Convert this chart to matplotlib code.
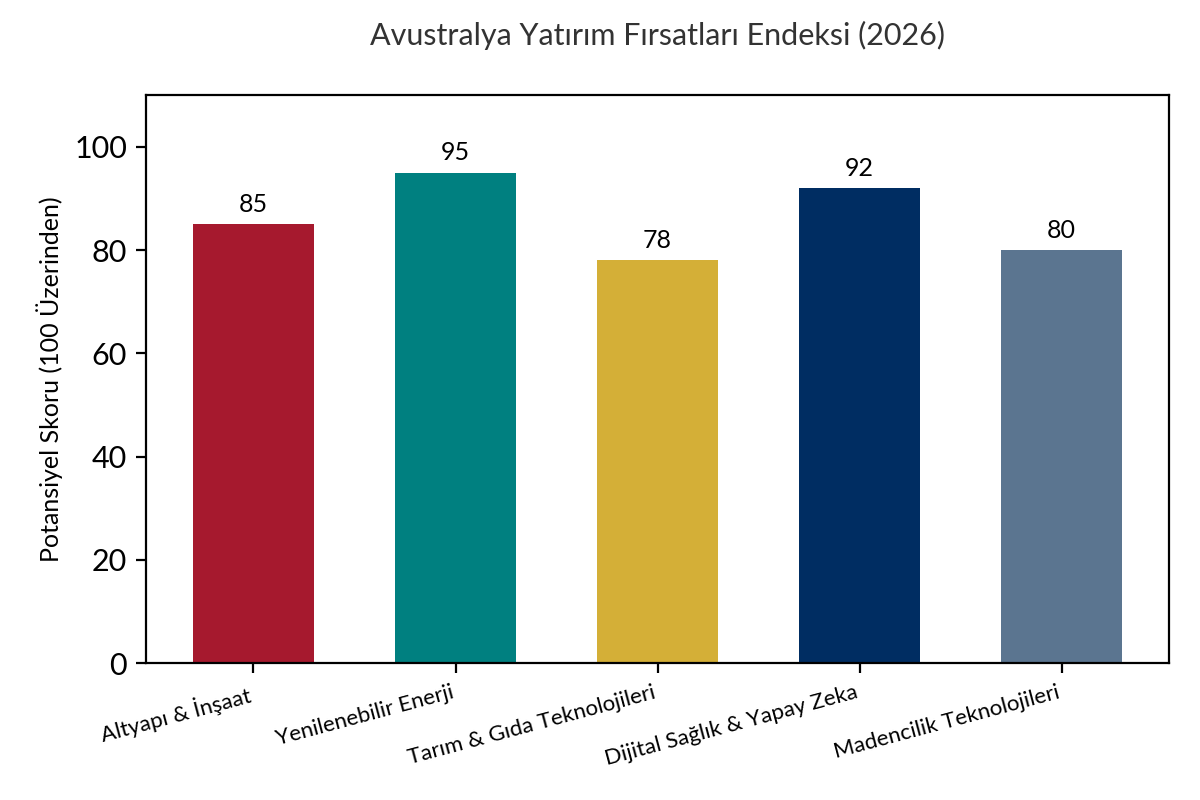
import matplotlib
matplotlib.use("Agg")
import matplotlib.pyplot as plt

plt.rcParams['font.family'] = ['Lato', 'DejaVu Sans']

sektorler = ['Altyapı & İnşaat', 'Yenilenebilir Enerji', 'Tarım & Gıda Teknolojileri',
             'Dijital Sağlık & Yapay Zeka', 'Madencilik Teknolojileri']
skorlar = [85, 95, 78, 92, 80]
renkler = ['#A6192E', '#008080', '#D4AF37', '#002D62', '#5B7590']

fig, ax = plt.subplots(figsize=(6, 4), dpi=200)
bars = ax.bar(sektorler, skorlar, color=renkler, width=0.6)
ax.bar_label(bars, padding=3, fontsize=9)

ax.set_ylim(0, 110)
ax.set_title('Avustralya Yatırım Fırsatları Endeksi (2026)', fontsize=11, color='#333333', pad=18)
ax.set_ylabel('Potansiyel Skoru (100 Üzerinden)', fontsize=9)
ax.tick_params(axis='y', labelsize=11)
plt.setp(ax.get_xticklabels(), rotation=15, ha='right', fontsize=8)

fig.subplots_adjust(left=0.122, right=0.974, top=0.881, bottom=0.171)
fig.savefig('out.png', dpi=200)
